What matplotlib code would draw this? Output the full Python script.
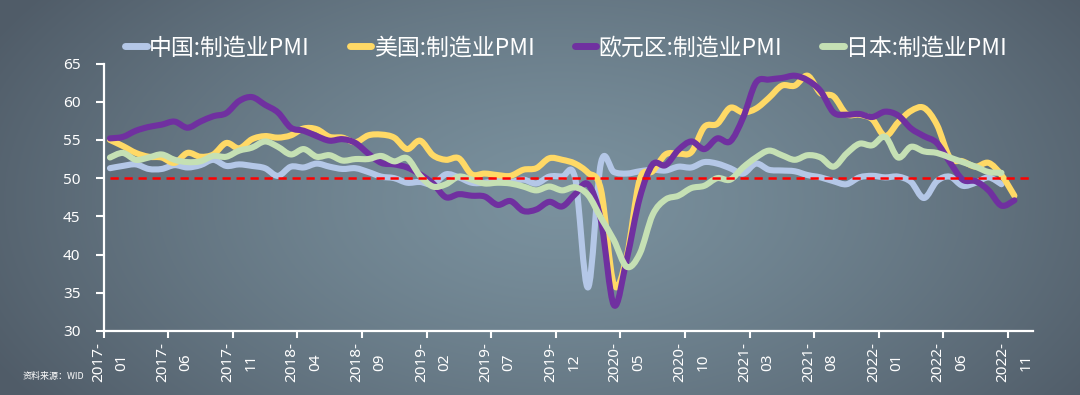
import numpy as np
import pandas as pd
import matplotlib
matplotlib.use("Agg")
import matplotlib.pyplot as plt
from matplotlib.path import Path
from matplotlib.patches import PathPatch
from matplotlib.lines import Line2D

# ---------------- data ----------------
months = pd.date_range("2017-01-01", "2022-11-01", freq="MS").strftime("%Y-%m").tolist()

china = [51.3, 51.6, 51.8, 51.2, 51.2, 51.7, 51.4, 51.7, 52.4, 51.6, 51.8, 51.6,
         51.3, 50.3, 51.5, 51.4, 51.9, 51.5, 51.2, 51.3, 50.8, 50.2, 50.0, 49.4,
         49.5, 49.2, 50.5, 50.1, 49.4, 49.4, 49.7, 49.5, 49.8, 49.3, 50.2, 50.2,
         50.0, 35.7, 52.0, 50.8, 50.6, 50.9, 51.1, 51.0, 51.5, 51.4, 52.1, 51.9,
         51.3, 50.6, 51.9, 51.1, 51.0, 50.9, 50.4, 50.1, 49.6, 49.2, 50.1, 50.3,
         50.1, 50.2, 49.5, 47.4, 49.6, 50.2, 49.0, 49.4, 50.1, 49.2]

usa = [55.0, 54.2, 53.3, 52.8, 52.7, 52.0, 53.3, 52.8, 53.1, 54.6, 53.9, 55.1,
       55.5, 55.3, 55.6, 56.5, 56.4, 55.4, 55.3, 54.7, 55.6, 55.7, 55.3, 53.8,
       54.9, 53.0, 52.4, 52.6, 50.5, 50.6, 50.4, 50.3, 51.1, 51.3, 52.6, 52.4,
       51.9, 50.7, 48.5, 36.1, 39.8, 49.8, 50.9, 53.1, 53.2, 53.4, 56.7, 57.1,
       59.2, 58.6, 59.1, 60.5, 62.1, 62.1, 63.4, 61.1, 60.7, 58.4, 58.3, 57.7,
       55.5, 57.3, 58.8, 59.2, 57.0, 52.7, 52.2, 51.5, 52.0, 50.4, 47.7]

euro = [55.2, 55.4, 56.2, 56.7, 57.0, 57.4, 56.6, 57.4, 58.1, 58.5, 60.1, 60.6,
        59.6, 58.6, 56.6, 56.2, 55.5, 54.9, 55.1, 54.6, 53.2, 52.0, 51.8, 51.4,
        50.5, 49.3, 47.5, 47.9, 47.7, 47.6, 46.5, 47.0, 45.7, 45.9, 46.9, 46.3,
        47.9, 49.2, 44.5, 33.4, 39.4, 47.4, 51.8, 51.7, 53.7, 54.8, 53.8, 55.2,
        54.8, 57.9, 62.5, 62.9, 63.1, 63.4, 62.8, 61.4, 58.6, 58.3, 58.4, 58.0,
        58.7, 58.2, 56.5, 55.5, 54.6, 52.1, 49.8, 49.6, 48.4, 46.4, 47.1]

japan = [52.7, 53.3, 52.4, 52.7, 53.1, 52.4, 52.1, 52.2, 52.9, 52.8, 53.6, 54.0,
         54.8, 54.1, 53.1, 53.8, 52.8, 53.0, 52.3, 52.5, 52.5, 52.9, 52.2, 52.6,
         50.3, 48.9, 49.2, 50.2, 49.8, 49.3, 49.4, 49.3, 48.9, 48.4, 48.9, 48.4,
         48.8, 47.8, 44.8, 41.9, 38.4, 40.1, 45.2, 47.2, 47.7, 48.7, 49.0, 50.0,
         49.8, 51.4, 52.7, 53.6, 53.0, 52.4, 53.0, 52.7, 51.5, 53.2, 54.5, 54.3,
         55.4, 52.7, 54.1, 53.5, 53.3, 52.7, 52.1, 51.5, 50.8, 50.7]

series_names = ["中国:制造业PMI", "美国:制造业PMI", "欧元区:制造业PMI", "日本:制造业PMI"]
series_colors = ["#b4c7e7", "#ffd966", "#7030a0", "#c5e0b4"]
threshold = 50
y_ticks = [30, 35, 40, 45, 50, 55, 60, 65]
label_step = 5
source_text = "资料来源：WID"

# ---------------- figure ----------------
W, H = 1080, 395
fig = plt.figure(figsize=(W / 100, H / 100), dpi=100)

# background radial gradient
bg = fig.add_axes([0, 0, 1, 1], zorder=-10)
yy, xx = np.mgrid[0:H, 0:W]
r = np.sqrt(((xx - 560) / 640.0) ** 2 + ((yy - 200) / 360.0) ** 2)
t = np.clip(r, 0, 1) ** 1.3
c_center = np.array([122, 145, 158]) / 255.0
c_edge = np.array([80, 92, 104]) / 255.0
img = c_center + (c_edge - c_center) * t[..., None]
bg.imshow(img, aspect="auto", extent=[0, 1, 0, 1], origin="upper")
bg.axis("off")

ax = fig.add_axes([103.5 / W, (H - 331) / H, 929.5 / W, 267.5 / H])
ax.set_facecolor("none")


def smooth_path(xs, ys):
    pts = np.column_stack([xs, ys]).astype(float)
    n = len(pts)
    verts = [pts[0]]
    codes = [Path.MOVETO]
    for i in range(n - 1):
        p0 = pts[i - 1] if i > 0 else pts[i]
        p1 = pts[i]
        p2 = pts[i + 1]
        p3 = pts[i + 2] if i + 2 < n else pts[i + 1]
        verts += [p1 + (p2 - p0) / 6.0, p2 - (p3 - p1) / 6.0, p2]
        codes += [Path.CURVE4] * 3
    return Path(verts, codes)


all_series = [china, usa, euro, japan]
for k, (vals, col) in enumerate(zip(all_series, series_colors)):
    xs = np.arange(len(vals))
    patch = PathPatch(smooth_path(xs, vals), facecolor="none", edgecolor=col,
                      lw=4.4, capstyle="round", joinstyle="round", zorder=3 + k)
    ax.add_patch(patch)

ax.hlines(threshold, 0, 71.44, colors="#ff0000", lw=1.8,
          linestyles=(0, (3.3, 2.3)), zorder=10)

ax.set_xlim(-0.5, 71.44)
ax.set_ylim(30, 65)

# x ticks: marks half a month to the left of the labels
label_pos = list(range(0, len(months), label_step))
ax.set_xticks([p - 0.5 for p in label_pos])
ax.set_xticklabels([])
ax.set_xticks(label_pos, minor=True)
ax.set_xticklabels([months[p].replace("-", "-\n") for p in label_pos], minor=True,
                   rotation=90, fontsize=11, color="white", linespacing=1.75,
                   family="Noto Sans")
ax.tick_params(axis="x", which="major", length=5, width=1.5, color="white", direction="out")
ax.tick_params(axis="x", which="minor", length=0, pad=8)

ax.set_yticks(y_ticks)
ax.set_yticklabels([str(v) for v in y_ticks], fontsize=11, color="white", family="Noto Sans")
ax.tick_params(axis="y", length=5.5, width=1.5, color="white", direction="out", pad=11)

for side in ["top", "right"]:
    ax.spines[side].set_visible(False)
for side in ["left", "bottom"]:
    ax.spines[side].set_color("white")
    ax.spines[side].set_linewidth(1.6)

handles = [Line2D([0], [0], color=c, lw=5, solid_capstyle="round") for c in series_colors]
leg = fig.legend(handles, series_names, loc="center", bbox_to_anchor=(566 / W, 1 - 48 / H),
                 ncol=4, frameon=False, handlelength=0.95, handletextpad=0.1,
                 columnspacing=1.75, prop={"family": ["Noto Sans CJK SC", "DejaVu Sans"], "size": 16.5})
for txt in leg.get_texts():
    txt.set_color("white")

fig.text(23 / W, 1 - 376 / H, source_text, fontsize=6.5, color="white",
         family=["Noto Sans CJK SC", "DejaVu Sans"], va="center", ha="left")

fig.savefig("out.png", dpi=100)
